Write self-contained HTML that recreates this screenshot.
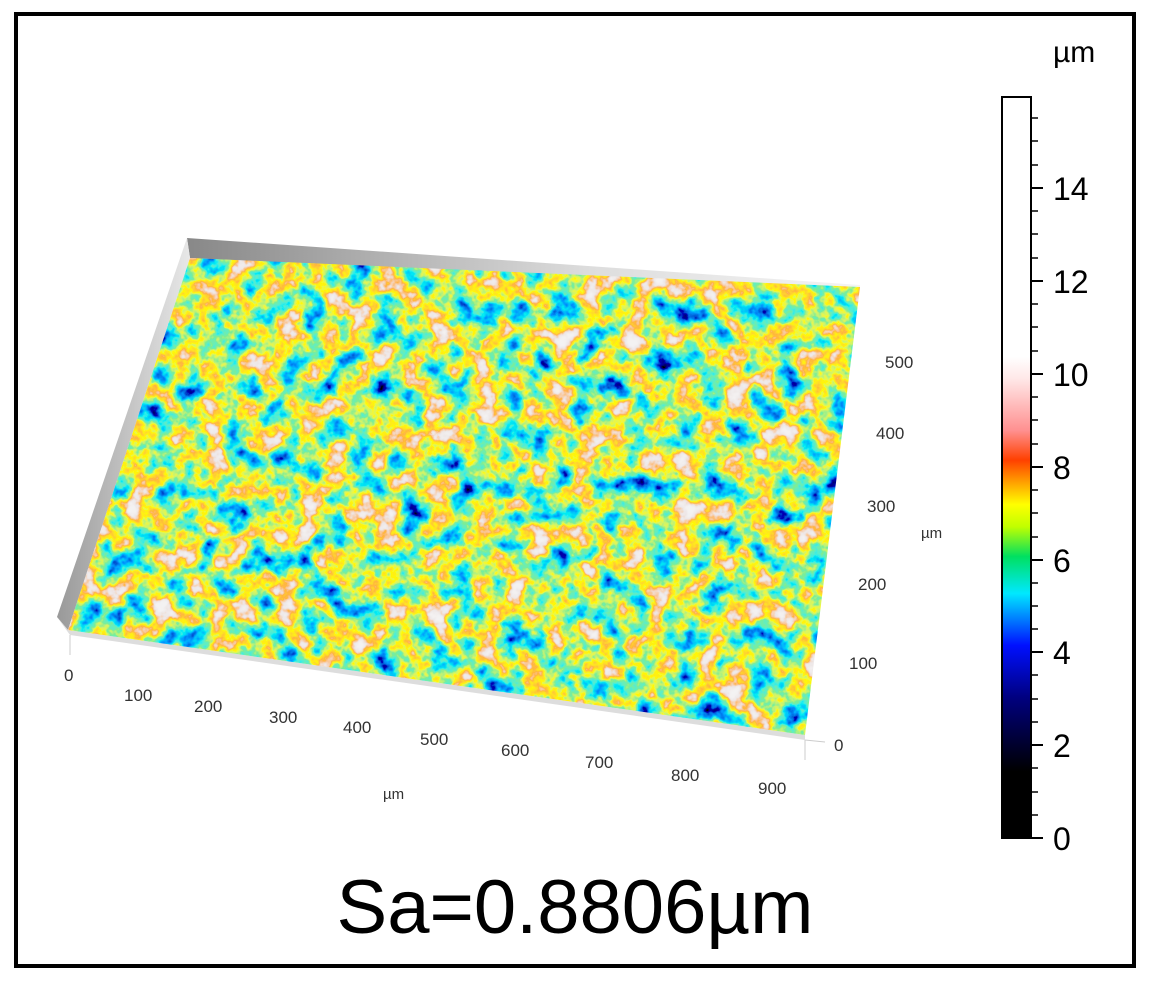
<!DOCTYPE html>
<html><head><meta charset="utf-8"><style>
html,body{margin:0;padding:0;background:#fff;}
body{width:1150px;height:985px;position:relative;overflow:hidden;font-family:"Liberation Sans",sans-serif;}
</style></head><body>
<svg width="1150" height="985" viewBox="0 0 1150 985" xmlns="http://www.w3.org/2000/svg" style="position:absolute;left:0;top:0">
<defs>
<linearGradient id="cb" x1="0" y1="1" x2="0" y2="0">
<stop offset="0" stop-color="#000"/>
<stop offset="0.09" stop-color="#000"/>
<stop offset="0.19" stop-color="#000080"/>
<stop offset="0.26" stop-color="#0010ff"/>
<stop offset="0.33" stop-color="#00e8ff"/>
<stop offset="0.38" stop-color="#00e060"/>
<stop offset="0.42" stop-color="#c0ff00"/>
<stop offset="0.45" stop-color="#ffff00"/>
<stop offset="0.48" stop-color="#ffa000"/>
<stop offset="0.51" stop-color="#ff4000"/>
<stop offset="0.55" stop-color="#ff9090"/>
<stop offset="0.62" stop-color="#ffe8e8"/>
<stop offset="0.65" stop-color="#fff"/>
<stop offset="1" stop-color="#fff"/>
</linearGradient>
<linearGradient id="wall" x1="0" y1="0" x2="1" y2="0">
<stop offset="0" stop-color="#999"/><stop offset="1" stop-color="#e8e8e8"/>
</linearGradient>
<linearGradient id="back" x1="0" y1="0" x2="1" y2="0">
<stop offset="0" stop-color="#888"/><stop offset="0.6" stop-color="#ddd"/><stop offset="1" stop-color="#f4f4f4"/>
</linearGradient>
<filter id="surf" x="0" y="0" width="1" height="1">
<feTurbulence type="fractalNoise" baseFrequency="0.04" numOctaves="4" seed="7" result="n"/>
<feColorMatrix type="matrix" values="1 0 0 0 0  1 0 0 0 0  1 0 0 0 0  0 0 0 0 1"/>
<feComponentTransfer>
<feFuncR type="table" tableValues="0 0 0 0 0 0.2 1 1 0.85 0.9 0.9 0.9"/>
<feFuncG type="table" tableValues="0 0 0 0.3 0.85 0.85 0.95 0.45 0.8 0.88 0.9 0.9"/>
<feFuncB type="table" tableValues="0 0 0.5 1 0.9 0.3 0 0.05 0.8 0.88 0.9 0.9"/>
</feComponentTransfer>
</filter>
<clipPath id="cp"><polygon points="190,258 860,287 805,735 68,630"/></clipPath>
</defs>
<rect x="16" y="14" width="1118" height="952" fill="#fff" stroke="#000" stroke-width="4"/>
<polygon points="187,238 860,285 860,290 190,258" fill="url(#back)"/>
<polygon points="187,238 190,258 68,630 57,617" fill="url(#wall)"/>
<polygon points="57,617 68,630 805,735 805,740 70,635" fill="#ddd"/>
<g clip-path="url(#cp)"><rect x="60" y="250" width="810" height="495" filter="url(#surf)"/></g>
<g stroke="#ccc" stroke-width="1">
<line x1="70" y1="635" x2="70" y2="655"/><line x1="805" y1="740" x2="805" y2="760"/>
<line x1="805" y1="740" x2="825" y2="742"/>
</g>
<g font-size="17" fill="#333">
<text x="64" y="681">0</text><text x="124" y="701">100</text><text x="194" y="712">200</text>
<text x="269" y="723">300</text><text x="343" y="733">400</text><text x="420" y="745">500</text>
<text x="501" y="756">600</text><text x="585" y="768">700</text><text x="671" y="781">800</text>
<text x="758" y="794">900</text><text x="383" y="799" font-size="15">µm</text>
<text x="834" y="751">0</text><text x="849" y="669">100</text><text x="858" y="590">200</text>
<text x="867" y="512">300</text><text x="876" y="439">400</text><text x="885" y="368">500</text>
<text x="921" y="538" font-size="15">µm</text>
</g>
<rect x="1002" y="97" width="29" height="741" fill="url(#cb)" stroke="#000" stroke-width="2"/>
<g stroke="#000" stroke-width="2">
<line x1="1031" y1="838" x2="1043" y2="838"/><line x1="1031" y1="745" x2="1043" y2="745"/>
<line x1="1031" y1="652" x2="1043" y2="652"/><line x1="1031" y1="560" x2="1043" y2="560"/>
<line x1="1031" y1="467" x2="1043" y2="467"/><line x1="1031" y1="374" x2="1043" y2="374"/>
<line x1="1031" y1="281" x2="1043" y2="281"/><line x1="1031" y1="188" x2="1043" y2="188"/>
</g>
<g stroke="#000" stroke-width="1.5">
<line x1="1031" y1="815" x2="1038" y2="815"/><line x1="1031" y1="792" x2="1038" y2="792"/><line x1="1031" y1="768" x2="1038" y2="768"/>
<line x1="1031" y1="722" x2="1038" y2="722"/><line x1="1031" y1="699" x2="1038" y2="699"/><line x1="1031" y1="675" x2="1038" y2="675"/>
<line x1="1031" y1="629" x2="1038" y2="629"/><line x1="1031" y1="606" x2="1038" y2="606"/><line x1="1031" y1="583" x2="1038" y2="583"/>
<line x1="1031" y1="537" x2="1038" y2="537"/><line x1="1031" y1="513" x2="1038" y2="513"/><line x1="1031" y1="490" x2="1038" y2="490"/>
<line x1="1031" y1="444" x2="1038" y2="444"/><line x1="1031" y1="420" x2="1038" y2="420"/><line x1="1031" y1="397" x2="1038" y2="397"/>
<line x1="1031" y1="351" x2="1038" y2="351"/><line x1="1031" y1="327" x2="1038" y2="327"/><line x1="1031" y1="304" x2="1038" y2="304"/>
<line x1="1031" y1="258" x2="1038" y2="258"/><line x1="1031" y1="234" x2="1038" y2="234"/><line x1="1031" y1="211" x2="1038" y2="211"/>
<line x1="1031" y1="165" x2="1038" y2="165"/><line x1="1031" y1="141" x2="1038" y2="141"/><line x1="1031" y1="118" x2="1038" y2="118"/>
</g>
<g font-size="32" fill="#000">
<text x="1053" y="850">0</text><text x="1053" y="757">2</text><text x="1053" y="664">4</text>
<text x="1053" y="572">6</text><text x="1053" y="479">8</text><text x="1053" y="386">10</text>
<text x="1053" y="293">12</text><text x="1053" y="200">14</text>
<text x="1053" y="62" font-size="30">µm</text>
</g>
<text x="575" y="933" font-size="76" text-anchor="middle" fill="#000">Sa=0.8806µm</text>
</svg>
</body></html>
